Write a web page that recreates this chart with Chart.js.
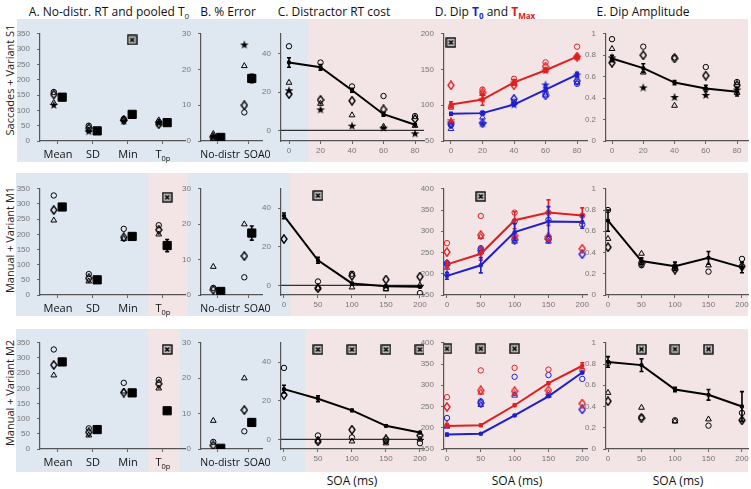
<!DOCTYPE html>
<html><head><meta charset="utf-8">
<script src="https://cdn.jsdelivr.net/npm/chart.js@4.4.1/dist/chart.umd.min.js"></script>
<style>
body{margin:0;background:#fff;width:751px;height:489px;position:relative;overflow:hidden;font-family:"Open Sans",sans-serif;color:#111}
.bg{position:absolute}
.blue{background:#dfe7f1}
.pink{background:#f3e4e6}
canvas{position:absolute}
.t{position:absolute;font-size:12px;white-space:nowrap;transform:translateX(-50%)}
.t sub{font-size:8px}
.row{position:absolute;font-size:11px;white-space:nowrap;color:#222;transform:translate(-50%,-50%) rotate(-90deg)}
</style></head>
<body>
<div class="bg blue" style="left:17px;top:19px;width:291px;height:143px"></div>
<div class="bg pink" style="left:308px;top:19px;width:440px;height:143px"></div>
<div class="bg blue" style="left:16px;top:173px;width:132px;height:143px"></div>
<div class="bg pink" style="left:148px;top:173px;width:40px;height:143px"></div>
<div class="bg blue" style="left:188px;top:173px;width:102px;height:143px"></div>
<div class="bg pink" style="left:290px;top:173px;width:458px;height:143px"></div>
<div class="bg blue" style="left:16px;top:329px;width:132px;height:143px"></div>
<div class="bg pink" style="left:148px;top:329px;width:32px;height:143px"></div>
<div class="bg blue" style="left:180px;top:329px;width:125px;height:143px"></div>
<div class="bg pink" style="left:305px;top:329px;width:443px;height:143px"></div>

<div class="t" style="left:109px;top:3px">A. No-distr. RT and pooled T<sub>0</sub></div>
<div class="t" style="left:228px;top:3px">B. % Error</div>
<div class="t" style="left:334px;top:3px">C. Distractor RT cost</div>
<div class="t" style="left:485px;top:3px">D. Dip <b style="color:#1c1cc8">T<sub>0</sub></b> and <b style="color:#e01818">T<sub>Max</sub></b></div>
<div class="t" style="left:643px;top:3px">E. Dip Amplitude</div>
<div class="row" style="left:9px;top:80px">Saccades + Variant S1</div>
<div class="row" style="left:9px;top:240px">Manual + Variant M1</div>
<div class="row" style="left:9px;top:393px">Manual + Variant M2</div>
<div class="t" style="left:352px;top:472px">SOA (ms)</div>
<div class="t" style="left:517px;top:472px">SOA (ms)</div>
<div class="t" style="left:678px;top:472px">SOA (ms)</div>

<script>
// ---------- data ----------
const catA = ['Mean', 'SD', 'Min', 'T0p'];
const catB = ['No-distr', 'SOA0'];
const soaS = [0, 20, 40, 60, 80];
const soaM = [0, 50, 100, 150, 200];

// row 1: saccades S1
const s1A_circle = [160, 50, 72, 62];
const s1A_diamond = [152, 42, 68, 55];
const s1A_triangle = [125, 35, 70, 68];
const s1A_star = [118, 32, 66, 60];
const s1A_mean = [143, 33, 87, 60];
const s1A_sig = [null, null, 330, null];
const s1B_circle = [0.3, 8];
const s1B_diamond = [1, 10];
const s1B_triangle = [2, 21];
const s1B_star = [1.2, 27];
const s1B_mean = [1, 17.5];
const s1B_err = [0, 1.2];
const s1C_mean = [35.5, 33, 21, 8.5, 3];
const s1C_err = [2.5, 1.5, 1, 1, 0.5];
const s1C_circle = [44, 35.5, 23, 18, 7.5];
const s1C_diamond = [19, 16, 15.5, 11, 6];
const s1C_triangle = [25, 14, 8, 2, 2.5];
const s1C_star = [21, 11, 2.5, 1.5, -1.5];
const s1D_redMean = [101, 108, 132, 149, 168];
const s1D_redErr = [4, 8, 4, 3, 3];
const s1D_blueMean = [88, 89, 101, 122, 143];
const s1D_blueErr = [2, 2, 2, 3, 3];
const s1D_redCircle = [98, 122, 137, 160, 182];
const s1D_redDiamond = [128, 118, 128, 154, 168];
const s1D_redTriangle = [97, 116, 132, 149, 167];
const s1D_redStar = [79, 109, 132, 149, 168];
const s1D_blueCircle = [72, 89, 105, 118, 130];
const s1D_blueDiamond = [74, 75, 109, 114, 134];
const s1D_blueTriangle = [67, 83, 103, 114, 132];
const s1D_blueStar = [76, 75, 101, 129, 143];
const s1D_sig = [188, null, null, null, null];
const s1E_mean = [0.77, 0.68, 0.545, 0.49, 0.46];
const s1E_err = [0.03, 0.04, 0.02, 0.03, 0.04];
const s1E_circle = [0.95, 0.88, 0.78, 0.69, 0.55];
const s1E_diamond = [0.73, 0.8, 0.77, 0.61, 0.52];
const s1E_triangle = [0.86, 0.64, 0.33, 0.49, 0.45];
const s1E_star = [0.78, 0.5, 0.41, 0.43, 0.48];

// row 2: manual M1
const m1A_circle = [328, 69, 218, 230];
const m1A_diamond = [280, 55, 190, 215];
const m1A_triangle = [246, 45, 185, 200];
const m1A_mean = [290, 50, 193, 163];
const m1A_err = [0, 0, 0, 20];
const m1A_sig = [null, null, null, 322];
const m1B_circle = [2, 5];
const m1B_diamond = [1.5, 11];
const m1B_triangle = [8, 20];
const m1B_mean = [1, 17.5];
const m1B_err = [0, 2];
const m1C_mean = [36, 13, 1, -0.5, -0.7];
const m1C_err = [1.5, 1.5, 0.5, 0.5, 0.5];
const m1C_circle = [null, 2, 6, -1.5, -4];
const m1C_diamond = [24, -1.5, 5, 3, 4.5];
const m1C_triangle = [null, -1.5, -1, -2, 0];
const m1C_sig = [null, 46.5, null, null, null];
const m1D_redMean = [222, 247, 326, 344, 337];
const m1D_redErr = [8, 15, 20, 30, 18];
const m1D_blueMean = [195, 220, 298, 323, 322];
const m1D_blueErr = [8, 18, 20, 35, 15];
const m1D_redCircle = [272, 336, 344, 344, 337];
const m1D_redDiamond = [251, 291, 290, 287, 259];
const m1D_redTriangle = [214, 287, 287, 283, null];
const m1D_blueCircle = [225, 260, 323, 327, 316];
const m1D_blueDiamond = [222, 255, 280, 282, 246];
const m1D_blueTriangle = [200, 251, 276, 276, null];
const m1D_sig = [null, 382, null, null, null];
const m1E_mean = [0.70, 0.32, 0.27, 0.35, 0.26];
const m1E_err = [0.1, 0.03, 0.04, 0.06, 0.05];
const m1E_circle = [0.8, 0.28, 0.27, 0.22, 0.34];
const m1E_diamond = [0.45, 0.3, 0.24, null, 0.27];
const m1E_triangle = [0.53, 0.39, 0.26, 0.28, null];

// row 3: manual M2
const m2A_circle = [328, 68, 218, 228];
const m2A_diamond = [277, 55, 186, 215];
const m2A_triangle = [243, 45, 190, 200];
const m2A_mean = [287, 64, 185, 126];
const m2A_sig = [null, null, null, 328];
const m2B_circle = [2, 5];
const m2B_diamond = [1, 11];
const m2B_triangle = [8, 20];
const m2B_mean = [0.2, 7.5];
const m2B_err = [0, 1];
const m2C_mean = [26, 21, 15, 7, 3.5];
const m2C_err = [2, 1.5, 0.5, 0.5, 0.5];
const m2C_circle = [37, 2, 1, -1, -2];
const m2C_diamond = [23, -1, 5, 0, 2];
const m2C_triangle = [null, -1, -1, -2, 0];
const m2C_sig = [null, 46.5, 46.5, 46.5, 46.5];
const m2D_redMean = [204, 206, 253, 305, 346];
const m2D_redErr = [3, 3, 3, 3, 7];
const m2D_blueMean = [184, 186, 229, 274, 330];
const m2D_blueErr = [3, 2, 2, 2, 3];
const m2D_redCircle = [272, 335, 341, 337, 335];
const m2D_redDiamond = [249, 288, 286, 288, 257];
const m2D_redTriangle = [208, 283, 280, 282, null];
const m2D_blueCircle = [223, 262, 320, 324, 315];
const m2D_blueDiamond = [null, 258, null, null, 243];
const m2D_blueTriangle = [203, 254, 276, 276, null];
const m2D_sig = [386, 386, 386, null, null];
const m2E_mean = [0.82, 0.79, 0.56, 0.51, 0.40];
const m2E_err = [0.05, 0.06, 0.02, 0.05, 0.14];
const m2E_circle = [0.81, 0.30, 0.27, 0.22, 0.34];
const m2E_diamond = [0.45, 0.29, null, null, 0.27];
const m2E_triangle = [0.53, 0.39, 0.26, 0.28, null];
const m2E_sig = [null, 0.94, 0.94, 0.94, null];

// ---------- marker images ----------
const RED = '#e02020', BLUE = '#1f1fd0';
function img(w, h, fn) {
    const c = document.createElement('canvas');
    c.width = w; c.height = h;
    fn(c.getContext('2d'));
    return c;
}
function star(col) {
    return img(10, 10, g => {
        g.fillStyle = col; g.beginPath();
        for (let i = 0; i < 10; i++) {
            const r = i % 2 ? 1.8 : 4.6, a = -Math.PI / 2 + i * Math.PI / 5;
            g.lineTo(5 + r * Math.cos(a), 5.4 + r * Math.sin(a));
        }
        g.closePath(); g.fill();
    });
}
function diamond(col) {
    return img(8, 10, g => {
        g.strokeStyle = col; g.lineWidth = 1.4; g.beginPath();
        g.moveTo(4, 0.8); g.lineTo(7, 5); g.lineTo(4, 9.2); g.lineTo(1, 5); g.closePath(); g.stroke();
    });
}
const sigImg = img(11, 11, g => {
    g.fillStyle = '#bdbdbd'; g.fillRect(0.5, 0.5, 10, 10);
    g.strokeStyle = '#000'; g.lineWidth = 1.3; g.strokeRect(1, 1, 9, 9);
    g.lineWidth = 1.5; g.beginPath();
    g.moveTo(3.5, 3.5); g.lineTo(7.5, 7.5); g.moveTo(7.5, 3.5); g.lineTo(3.5, 7.5); g.stroke();
});

function pts(xs, ys, dx) {
    const out = [];
    ys.forEach((y, i) => { if (y != null) out.push({ x: xs[i] + dx, y: y }); });
    return out;
}
function mk(xs, ys, shape, col, dx) {
    const base = { data: pts(xs, ys, dx || 0), showLine: false, borderColor: col, backgroundColor: 'rgba(0,0,0,0)', borderWidth: 1, order: 2 };
    if (shape === 'circle') return Object.assign(base, { pointStyle: 'circle', pointRadius: 2.7 });
    if (shape === 'triangle') return Object.assign(base, { pointStyle: 'triangle', pointRadius: 3.3 });
    if (shape === 'diamond') return Object.assign(base, { pointStyle: diamond(col), pointRadius: 4 });
    if (shape === 'star') return Object.assign(base, { pointStyle: star(col), pointRadius: 4 });
    if (shape === 'sig') return Object.assign(base, { pointStyle: sigImg, pointRadius: 5 });
    if (shape === 'square') return Object.assign(base, { pointStyle: 'rect', pointRadius: 5.8, backgroundColor: '#000', borderColor: '#000', order: 1 });
}
function meanLine(xs, ys, err, col) {
    return { data: pts(xs, ys, 0), err: err, showLine: true, borderColor: col, backgroundColor: col, borderWidth: 2, pointRadius: 1.2, pointStyle: 'circle', order: 0 };
}

// ---------- plugins ----------
Chart.register({
    id: 'errbars',
    afterDatasetsDraw(chart) {
        const g = chart.ctx, xs = chart.scales.x, ys = chart.scales.y;
        chart.data.datasets.forEach(ds => {
            if (!ds.err) return;
            g.save(); g.strokeStyle = ds.borderColor; g.lineWidth = 1.6;
            ds.data.forEach((p, i) => {
                const e = ds.err[i]; if (!e) return;
                const px = xs.getPixelForValue(p.x), y1 = ys.getPixelForValue(p.y - e), y2 = ys.getPixelForValue(p.y + e);
                g.beginPath(); g.moveTo(px, y1); g.lineTo(px, y2);
                g.moveTo(px - 2, y1); g.lineTo(px + 2, y1); g.moveTo(px - 2, y2); g.lineTo(px + 2, y2); g.stroke();
            });
            g.restore();
        });
    }
});
const zeroLine = {
    id: 'zeroLine',
    beforeDatasetsDraw(chart) {
        const g = chart.ctx, a = chart.chartArea, y = chart.scales.y.getPixelForValue(0);
        g.save(); g.strokeStyle = '#333'; g.lineWidth = 1.2;
        g.beginPath(); g.moveTo(a.left, y); g.lineTo(a.right, y); g.stroke(); g.restore();
    }
};
// category labels under the x axis, with optional alignment and pixel shift
function catLabels(labels, aligns, shifts) {
    return {
        id: 'catLabels',
        afterDraw(chart) {
            const g = chart.ctx, xs = chart.scales.x, y = chart.chartArea.bottom + 14;
            g.save(); g.fillStyle = '#111'; g.textBaseline = 'middle';
            labels.forEach((l, i) => {
                const px = xs.getPixelForValue(i + 1) + (shifts ? shifts[i] : 0);
                if (l === 'T0p') {
                    g.font = '11px "Open Sans"';
                    const w1 = g.measureText('T').width;
                    g.font = '7.5px "Open Sans"';
                    const w2 = g.measureText('0p').width;
                    const x0 = px - (w1 + w2) / 2;
                    g.textAlign = 'left';
                    g.font = '11px "Open Sans"'; g.fillText('T', x0, y);
                    g.font = '7.5px "Open Sans"'; g.fillText('0p', x0 + w1, y + 3.5);
                } else {
                    g.font = (aligns ? '10.5px' : '11px') + ' "Open Sans"';
                    g.textAlign = aligns ? aligns[i] : 'center';
                    g.fillText(l, px, y);
                }
            });
            g.restore();
        }
    };
}

// ---------- panel builder ----------
const PL = 30, PT = 7, PR = 16, PB = 22;
function panel(r, xr, yr, xticks, yticks, datasets, extra, yfmt) {
    const c = document.createElement('canvas');
    c.width = r[2] - r[0] + PL + PR; c.height = r[3] - r[1] + PT + PB;
    c.style.left = (r[0] - PL) + 'px'; c.style.top = (r[1] - PT) + 'px';
    document.body.appendChild(c);
    const tickFont = { family: '"Liberation Sans", Arial', size: 8 };
    new Chart(c, {
        type: 'scatter',
        data: { datasets: datasets },
        plugins: extra || [],
        options: {
            responsive: false, animation: false, events: [],
            layout: { padding: { top: PT, right: PR, left: 0, bottom: 0 }, autoPadding: false },
            plugins: { legend: { display: false }, tooltip: { enabled: false } },
            scales: {
                x: {
                    type: 'linear', min: xr[0], max: xr[1],
                    afterFit: s => { s.height = PB; },
                    afterBuildTicks: s => { s.ticks = xticks.map(v => ({ value: v })); },
                    ticks: { font: tickFont, color: '#777', padding: 2, maxRotation: 0, callback: v => (extra && extra.cat ? '' : v) },
                    grid: { drawOnChartArea: false, tickLength: 3, color: '#666' },
                    border: { color: '#555', width: 1.2 }
                },
                y: {
                    min: yr[0], max: yr[1],
                    afterFit: s => { s.width = PL; },
                    afterBuildTicks: s => { s.ticks = yticks.map(v => ({ value: v })); },
                    ticks: { font: tickFont, color: '#777', padding: 7, callback: yfmt || (v => v) },
                    grid: { drawOnChartArea: false, tickLength: 3, color: '#666' },
                    border: { color: '#555', width: 1.2 }
                }
            }
        }
    });
}

const R = [[29, 141], [184, 295], [338, 449]];
const colA = [40, 185], colB = [201, 262], colC = [281, 424], colD = [444, 587], colE = [606, 748];
const xA = [0.486, 4.63], xB = [0.484, 2.45];
const catIdxA = [1, 2, 3, 4], catIdxB = [1, 2];
const yA = [0, 350], yB = [0, 30];
const tA = [0, 50, 100, 150, 200, 250, 300, 350], tB = [0, 10, 20, 30];
const tE = [0, 0.2, 0.4, 0.6, 0.8, 1];
const eFmt = v => (Math.abs(v) < 1e-9 ? '0' : Math.abs(v - 1) < 1e-9 ? '1' : v.toFixed(1));
const dl = -0.12, dr = 0.12;

function rect(col, row) { return [col[0], R[row][0], col[1], R[row][1]]; }
function withCat(labels, aligns, shifts) { const p = [catLabels(labels, aligns, shifts)]; p.cat = true; return p; }

// Panel A
[[0, s1A_circle, s1A_diamond, s1A_triangle, s1A_star, s1A_mean, null, s1A_sig],
 [1, m1A_circle, m1A_diamond, m1A_triangle, null, m1A_mean, m1A_err, m1A_sig],
 [2, m2A_circle, m2A_diamond, m2A_triangle, null, m2A_mean, null, m2A_sig]].forEach(a => {
    const ds = [mk(catIdxA, a[1], 'circle', '#000', dl), mk(catIdxA, a[2], 'diamond', '#000', dl), mk(catIdxA, a[3], 'triangle', '#000', dl)];
    if (a[4]) ds.push(mk(catIdxA, a[4], 'star', '#000', dl));
    const m = mk(catIdxA, a[5], 'square', '#000', dr);
    if (a[6]) m.err = a[6];
    ds.push(m);
    ds.push(mk(catIdxA, a[7], 'sig', '#000', dr));
    panel(rect(colA, a[0]), xA, yA, catIdxA, tA, ds, withCat(catA));
});

// Panel B
[[0, s1B_circle, s1B_diamond, s1B_triangle, s1B_star, s1B_mean, s1B_err],
 [1, m1B_circle, m1B_diamond, m1B_triangle, null, m1B_mean, m1B_err],
 [2, m2B_circle, m2B_diamond, m2B_triangle, null, m2B_mean, m2B_err]].forEach(a => {
    const ds = [mk(catIdxB, a[1], 'circle', '#000', dl), mk(catIdxB, a[2], 'diamond', '#000', dl), mk(catIdxB, a[3], 'triangle', '#000', dl)];
    if (a[4]) ds.push(mk(catIdxB, a[4], 'star', '#000', dl));
    const m = mk(catIdxB, a[5], 'square', '#000', dr);
    m.err = a[6];
    ds.push(m);
    panel(rect(colB, a[0]), xB, yB, catIdxB, tB, ds, withCat(catB, ['right', 'left'], [23, -4]));
});

// Panel C
panel(rect(colC, 0), [-5.08, 85.7], [-5.5, 50.5], soaS, [0, 20, 40], [
    meanLine(soaS, s1C_mean, s1C_err, '#000'),
    mk(soaS, s1C_circle, 'circle', '#000'), mk(soaS, s1C_diamond, 'diamond', '#000'),
    mk(soaS, s1C_triangle, 'triangle', '#000'), mk(soaS, s1C_star, 'star', '#000')
], [zeroLine]);
panel(rect(colC, 1), [-4.4, 206], [-5, 50], soaM, [0, 20, 40], [
    meanLine(soaM, m1C_mean, m1C_err, '#000'),
    mk(soaM, m1C_circle, 'circle', '#000'), mk(soaM, m1C_diamond, 'diamond', '#000'),
    mk(soaM, m1C_triangle, 'triangle', '#000'), mk(soaM, m1C_sig, 'sig', '#000')
], [zeroLine]);
panel(rect(colC, 2), [-4.4, 206], [-5, 50], soaM, [0, 20, 40], [
    meanLine(soaM, m2C_mean, m2C_err, '#000'),
    mk(soaM, m2C_circle, 'circle', '#000'), mk(soaM, m2C_diamond, 'diamond', '#000'),
    mk(soaM, m2C_triangle, 'triangle', '#000'), mk(soaM, m2C_sig, 'sig', '#000')
], [zeroLine]);

// Panel D
panel(rect(colD, 0), [-4.44, 86.3], [50, 200], soaS, [50, 100, 150, 200], [
    meanLine(soaS, s1D_redMean, s1D_redErr, RED), meanLine(soaS, s1D_blueMean, s1D_blueErr, BLUE),
    mk(soaS, s1D_redCircle, 'circle', RED), mk(soaS, s1D_redDiamond, 'diamond', RED),
    mk(soaS, s1D_redTriangle, 'triangle', RED), mk(soaS, s1D_redStar, 'star', RED),
    mk(soaS, s1D_blueCircle, 'circle', BLUE), mk(soaS, s1D_blueDiamond, 'diamond', BLUE),
    mk(soaS, s1D_blueTriangle, 'triangle', BLUE), mk(soaS, s1D_blueStar, 'star', BLUE),
    mk(soaS, s1D_sig, 'sig', '#000')
]);
[[1, m1D_redMean, m1D_redErr, m1D_blueMean, m1D_blueErr, m1D_redCircle, m1D_redDiamond, m1D_redTriangle, m1D_blueCircle, m1D_blueDiamond, m1D_blueTriangle, m1D_sig],
 [2, m2D_redMean, m2D_redErr, m2D_blueMean, m2D_blueErr, m2D_redCircle, m2D_redDiamond, m2D_redTriangle, m2D_blueCircle, m2D_blueDiamond, m2D_blueTriangle, m2D_sig]].forEach(a => {
    panel(rect(colD, a[0]), [-4.4, 207], [150, 400], soaM, [150, 200, 250, 300, 350, 400], [
        meanLine(soaM, a[1], a[2], RED), meanLine(soaM, a[3], a[4], BLUE),
        mk(soaM, a[5], 'circle', RED), mk(soaM, a[6], 'diamond', RED), mk(soaM, a[7], 'triangle', RED),
        mk(soaM, a[8], 'circle', BLUE), mk(soaM, a[9], 'diamond', BLUE), mk(soaM, a[10], 'triangle', BLUE),
        mk(soaM, a[11], 'sig', '#000')
    ]);
});

// Panel E
panel(rect(colE, 0), [-3.84, 87], [0, 1], soaS, tE, [
    meanLine(soaS, s1E_mean, s1E_err, '#000'),
    mk(soaS, s1E_circle, 'circle', '#000'), mk(soaS, s1E_diamond, 'diamond', '#000'),
    mk(soaS, s1E_triangle, 'triangle', '#000'), mk(soaS, s1E_star, 'star', '#000')
], null, eFmt);
panel(rect(colE, 1), [-3, 209], [0, 1], soaM, tE, [
    meanLine(soaM, m1E_mean, m1E_err, '#000'),
    mk(soaM, m1E_circle, 'circle', '#000'), mk(soaM, m1E_diamond, 'diamond', '#000'),
    mk(soaM, m1E_triangle, 'triangle', '#000')
], null, eFmt);
panel(rect(colE, 2), [-3, 209], [0, 1], soaM, tE, [
    meanLine(soaM, m2E_mean, m2E_err, '#000'),
    mk(soaM, m2E_circle, 'circle', '#000'), mk(soaM, m2E_diamond, 'diamond', '#000'),
    mk(soaM, m2E_triangle, 'triangle', '#000'), mk(soaM, m2E_sig, 'sig', '#000')
], null, eFmt);
</script>
</body></html>
